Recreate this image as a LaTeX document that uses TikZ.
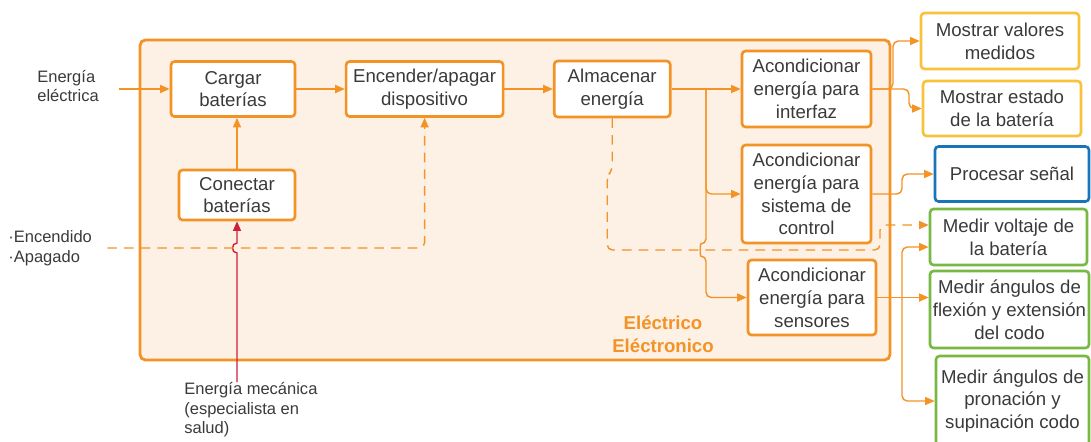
\documentclass[tikz,border=0pt]{standalone}
\usepackage{fontspec}
\setmainfont{Liberation Sans}
\usepackage{xcolor}
\usepackage{tikz}
\usetikzlibrary{arrows.meta,positioning}
\definecolor{ebInk}{HTML}{3A3A3A}
\definecolor{ebOrange}{HTML}{F39325}
\definecolor{ebPanel}{HTML}{FDF0E5}
\definecolor{ebYellow}{HTML}{F9C23C}
\definecolor{ebBlue}{HTML}{1A74BA}
\definecolor{ebGreen}{HTML}{78B943}
\definecolor{ebRed}{HTML}{CF1F3B}
\tikzset{
  % Common box look
  basebox/.style={rectangle,rounded corners=2pt,line width=1.5pt,
    fill=white,align=center,inner sep=1pt,text=ebInk,
    font=\fontsize{10.6}{13}\selectfont},
  % Orange function box
  funbox/.style={basebox,draw=ebOrange},
  % Display box (yellow)
  showbox/.style={basebox,draw=ebYellow},
  % Control box (blue)
  ctrlbox/.style={basebox,draw=ebBlue},
  % Measurement box (green)
  measbox/.style={basebox,draw=ebGreen},
  % Subsystem panel
  panelbox/.style={rectangle,rounded corners=3pt,line width=1.6pt,
    draw=ebOrange,fill=ebPanel},
  paneltxt/.style={align=center,text=ebOrange,inner sep=0pt,
    font=\fontsize{10.6}{13}\selectfont\bfseries},
  % Outside labels
  lbl/.style={align=left,inner sep=0pt,text=ebInk,
    font=\fontsize{9.4}{11.2}\selectfont},
  % Arrows
  arr/.style={-{Triangle[length=5.5pt,width=4.6pt]},line width=0.8pt,color=ebOrange},
  arrd/.style={arr,dash pattern=on 5.5pt off 4pt},
  arrm/.style={-{Triangle[length=5.5pt,width=4.6pt]},line width=0.8pt,color=ebRed},
}
\begin{document}
\begin{tikzpicture}[x=0.02cm,y=-0.02cm]
  \useasboundingbox (0,0) rectangle (1091,441);

  \node[panelbox,minimum width=15cm,minimum height=6.4cm] (panel) at (515,200) {};
  \node[paneltxt] (paneltag) at (663,334) {Eléctrico\\Eléctronico};

  \node[lbl,anchor=west] (elec) at (37,86) {Energía\\eléctrica};
  \node[lbl,anchor=west] (onoff) at (8,248) {·Encendido\\·Apagado};
  \node[lbl,anchor=north west] (meca) at (184,382)
    {Energía mecánica\\(especialista en\\salud)};

  \node[funbox,minimum width=2.48cm,minimum height=1.1cm] (cargar) at (233,89)
    {Cargar\\baterías};
  \node[funbox,minimum width=3.14cm,minimum height=1.1cm,right=0.97cm of cargar] (encender)
    {Encender/apagar\\dispositivo};
  \node[funbox,minimum width=2.32cm,minimum height=1.12cm,right=0.97cm of encender] (almacenar)
    {Almacenar\\energía};
  \node[funbox,minimum width=2.32cm,minimum height=1cm] (conectar) at (237,195)
    {Conectar\\baterías};

  \node[funbox,minimum width=2.58cm,minimum height=1.52cm] (interfaz) at (806.5,89)
    {Acondicionar\\energía para\\interfaz};
  \node[funbox,minimum width=2.58cm,minimum height=1.96cm] (sistema) at (806.5,194)
    {Acondicionar\\energía para\\sistema de\\control};
  \node[funbox,minimum width=2.56cm,minimum height=1.5cm] (sensores) at (812,297.5)
    {Acondicionar\\energía para\\sensores};

  \node[showbox,minimum width=3.16cm,minimum height=1.12cm] (valores) at (1000,41)
    {Mostrar valores\\medidos};
  \node[showbox,minimum width=3.16cm,minimum height=1.1cm] (estado) at (1002,108.5)
    {Mostrar estado\\de la batería};
  \node[ctrlbox,minimum width=3.08cm,minimum height=1.1cm] (procesar) at (1012,174)
    {Procesar señal};
  \node[measbox,minimum width=3.14cm,minimum height=1.12cm] (voltaje) at (1008.5,237)
    {Medir voltaje de\\la batería};
  \node[measbox,minimum width=3.18cm,minimum height=1.54cm] (flexion) at (1009.5,309.5)
    {Medir ángulos de\\flexión y extensión\\del codo};
  \node[measbox,minimum width=3.06cm,minimum height=1.8cm] (pronacion) at (1012.5,401)
    {Medir ángulos de\\pronación y\\supinación codo};

  % main chain
  \draw[arr] ([xshift=0.4cm]elec.east |- cargar.west) -- (cargar.west);
  \draw[arr] (cargar) -- (encender);
  \draw[arr] (encender) -- (almacenar);
  \draw[arr] (conectar.north) -- (conectar.north |- cargar.south);
  \draw[arrm] (meca.north -| conectar.south) -- (237,253)
    .. controls (231,253) and (231,243) .. (237,243) -- (conectar.south);
  \draw[arrd,rounded corners=3pt] ([xshift=0.3cm]onoff.east) -| (encender.south);

  % power distribution
  \coordinate (bus) at (706,89);
  \draw[arr] (almacenar.east) -- (interfaz.west);
  \draw[arr,rounded corners=3pt] (bus) |- (sistema.west);
  \draw[arr,rounded corners=3pt] (bus) -- (706,244)
    .. controls (700,244) and (700,256) .. (706,256) |- (sensores.west);
  \coordinate (dturn) at (880,250);
  \draw[arrd,rounded corners=3pt] (almacenar.south) -- ++(0,52) -- ++(-5,6)
    |- (dturn) |- ([yshift=0.24cm]voltaje.west);

  % outputs
  \coordinate (ifork) at (893,89);
  \draw[arr,rounded corners=3pt] (interfaz.east) -- (ifork) |- (valores.west);
  \draw[arr,rounded corners=3pt] (interfaz.east) -- (909,89) |- (estado.west);
  \draw[arr,rounded corners=3pt] (sistema.east) -- (902,194) |- (procesar.west);
  \coordinate (sfork) at (902,297.5);
  \draw[arr] (sensores.east) -- (sensores.east -| flexion.west);
  \draw[arr,rounded corners=3pt] (sfork) |- ([yshift=-0.2cm]voltaje.west);
  \draw[arr,rounded corners=3pt] (sfork) |- (pronacion.west);
\end{tikzpicture}
\end{document}
